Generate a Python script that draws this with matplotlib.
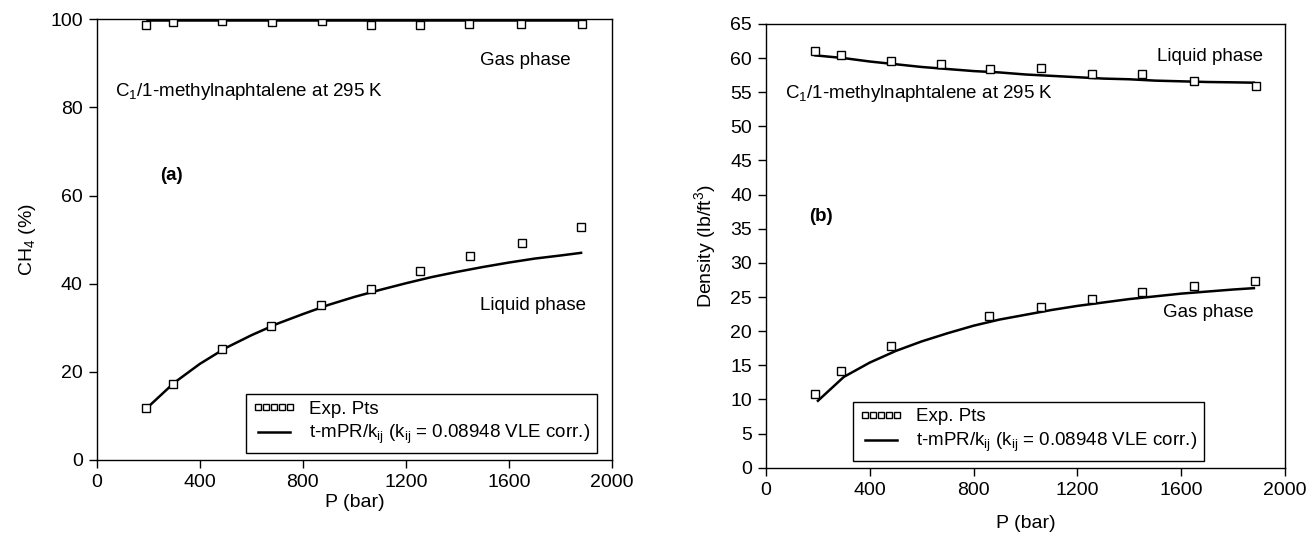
import matplotlib
matplotlib.use("Agg")
import matplotlib.pyplot as plt
from matplotlib.lines import Line2D

plt.rcParams['font.family'] = ['Liberation Sans', 'DejaVu Sans']
plt.rcParams['mathtext.fontset'] = 'custom'
plt.rcParams['mathtext.rm'] = 'Liberation Sans'
plt.rcParams['mathtext.it'] = 'Liberation Sans'
plt.rcParams['mathtext.default'] = 'regular'

# ---- Panel (a): CH4 composition ----
p_exp_a = [190, 295, 485, 680, 875, 1065, 1255, 1445, 1645, 1885]
gas_exp_a = [98.8, 99.4, 99.7, 99.3, 99.5, 98.6, 98.8, 99.0, 99.0, 99.0]
p_liq_exp_a = [190, 295, 485, 675, 870, 1065, 1255, 1450, 1650, 1880]
liq_exp_a = [11.8, 17.3, 25.2, 30.4, 35.2, 38.8, 42.9, 46.3, 49.3, 52.9]
p_model_a = [195, 300, 400, 500, 600, 700, 800, 900, 1000, 1100, 1200, 1300, 1400, 1500, 1600, 1700, 1800, 1880]
liq_model_a = [11.8, 17.5, 21.8, 25.4, 28.3, 30.9, 33.1, 35.2, 37.0, 38.6, 40.1, 41.5, 42.7, 43.8, 44.8, 45.7, 46.4, 47.0]
gas_model_a = [99.8] * len(p_model_a)

# ---- Panel (b): density ----
p_liq_exp_b = [190, 290, 480, 675, 865, 1060, 1255, 1450, 1650, 1890]
liq_exp_b = [61.0, 60.4, 59.6, 59.1, 58.4, 58.5, 57.7, 57.6, 56.7, 55.9]
p_gas_exp_b = [190, 290, 480, 860, 1060, 1255, 1450, 1650, 1885]
gas_exp_b = [10.8, 14.2, 17.8, 22.2, 23.6, 24.7, 25.7, 26.6, 27.4]
p_model_b = [190, 300, 400, 500, 600, 700, 800, 900, 1000, 1100, 1200, 1300, 1400, 1500, 1600, 1700, 1800, 1880]
liq_model_b = [60.4, 60.0, 59.5, 59.1, 58.7, 58.4, 58.1, 57.9, 57.6, 57.4, 57.2, 57.0, 56.9, 56.7, 56.6, 56.5, 56.45, 56.4]
p_gas_model_b = [200, 300, 400, 500, 600, 700, 800, 900, 1000, 1100, 1200, 1300, 1400, 1500, 1600, 1700, 1800, 1880]
gas_model_b = [9.8, 13.3, 15.4, 17.1, 18.5, 19.7, 20.8, 21.7, 22.4, 23.1, 23.7, 24.2, 24.7, 25.1, 25.5, 25.8, 26.1, 26.3]

x_ticks = [0, 400, 800, 1200, 1600, 2000]
y_ticks_a = [0, 20, 40, 60, 80, 100]
y_ticks_b = list(range(0, 70, 5))

FS_TICK = 14
FS_TXT = 13.5

fig = plt.figure(figsize=(13.11, 5.34), dpi=100)
axa = fig.add_axes([0.0738, 0.1386, 0.3930, 0.8253])
axb = fig.add_axes([0.5843, 0.1242, 0.3959, 0.8309])

mk = dict(marker='s', linestyle='none', markersize=6, markerfacecolor='white',
          markeredgecolor='black', markeredgewidth=1.0)
ln = dict(color='black', linewidth=1.8)

def style(ax, xpad):
    for s in ax.spines.values():
        s.set_linewidth(1.0)
    ax.tick_params(direction='out', length=6, width=1, labelsize=FS_TICK,
                   top=False, right=False, pad=4)
    ax.set_xlim(0, 2000)
    ax.set_xticks(x_ticks)
    ax.set_xlabel('P (bar)', fontsize=FS_TICK, labelpad=xpad)

def legend(ax, anchor):
    h1 = Line2D([], [], **mk)
    h2 = Line2D([], [], **ln)
    leg = ax.legend([h1, h2], ['Exp. Pts', 't-mPR/k$_{ij}$ (k$_{ij}$ = 0.08948 VLE corr.)'],
                    loc='lower left', bbox_to_anchor=anchor, numpoints=5, handlelength=2.3,
                    markerscale=0.7, fontsize=FS_TXT, frameon=True, fancybox=False,
                    edgecolor='black', framealpha=1, borderpad=0.35, labelspacing=0.3,
                    handletextpad=0.7, borderaxespad=0)
    leg.get_frame().set_linewidth(1.0)

# panel a
axa.plot(p_model_a, gas_model_a, **ln)
axa.plot(p_model_a, liq_model_a, **ln)
axa.plot(p_exp_a, gas_exp_a, **mk)
axa.plot(p_liq_exp_a, liq_exp_a, **mk)
style(axa, 2)
axa.set_ylim(0, 100)
axa.set_yticks(y_ticks_a)
axa.set_ylabel('CH$_4$ (%)', fontsize=FS_TICK, labelpad=9)
axa.text(1488, 90.7, 'Gas phase', fontsize=FS_TXT, va='center')
axa.text(1488, 35.0, 'Liquid phase', fontsize=FS_TXT, va='center')
axa.text(69, 83.7, 'C$_1$/1-methylnaphtalene at 295 K', fontsize=FS_TXT, va='center')
axa.text(245, 64.6, '(a)', fontsize=FS_TXT, fontweight='bold', va='center')
legend(axa, (0.29, 0.016))

# panel b
axb.plot(p_model_b, liq_model_b, **ln)
axb.plot(p_gas_model_b, gas_model_b, **ln)
axb.plot(p_liq_exp_b, liq_exp_b, **mk)
axb.plot(p_gas_exp_b, gas_exp_b, **mk)
style(axb, 12)
axb.set_ylim(0, 65)
axb.set_yticks(y_ticks_b)
axb.set_ylabel('Density (lb/ft$^3$)', fontsize=FS_TICK, labelpad=9)
axb.text(1507, 60.3, 'Liquid phase', fontsize=FS_TXT, va='center')
axb.text(1528, 22.8, 'Gas phase', fontsize=FS_TXT, va='center')
axb.text(72, 54.8, 'C$_1$/1-methylnaphtalene at 295 K', fontsize=FS_TXT, va='center')
axb.text(165, 36.8, '(b)', fontsize=FS_TXT, fontweight='bold', va='center')
legend(axb, (0.168, 0.0154))

fig.savefig('out.png', dpi=100)
